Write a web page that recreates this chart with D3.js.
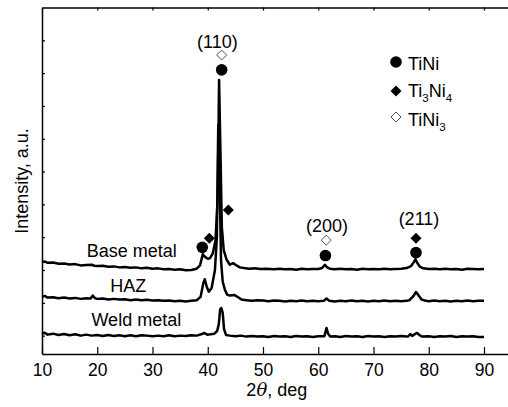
<!DOCTYPE html>
<html>
<head>
<meta charset="utf-8">
<script src="https://cdn.jsdelivr.net/npm/d3@7"></script>
<style>
  html, body { margin: 0; padding: 0; background: #fff; }
  svg { display: block; font-family: "Liberation Sans", Arial, sans-serif; }
</style>
</head>
<body>
<svg id="chart" width="508" height="407"></svg>
<script>
// ── data (2θ in deg, intensity in a.u.) ─────────────────────────
const xTicks = [10, 20, 30, 40, 50, 60, 70, 80, 90];
const yTicks = [0, 100, 200, 300, 400, 500, 600, 700, 800, 900];

const baseMetal = [
  [10,224],[10.5,226],[11,222],[12,223],[13,219],[14,220],[15,217],[16,218],[17,214],[18,215],
  [19,216],[19.5,213],[20,212],[21,213],[22,210],[23,211],[24,208],[25,209],[26,207],[27,208],
  [28,205],[29,207],[30,204],[31,205],[32,202],[33,203],[34,201],[35,202],[36,199],[37,200],
  [38,204],[38.6,214],[39.1,248],[39.5,240],[40,234],[40.4,236],[40.9,250],[41.4,290],[41.8,420],
  [42.05,779],[42.3,560],[42.55,330],[42.9,260],[43.4,232],[44,216],[44.6,221],[45.2,214],[45.8,208],
  [46.5,206],[47.5,204],[48.5,205],[49.5,203],[50.5,204],[52,202],[53,204],[54,202],[55,203],
  [56,201],[57,204],[58,202],[59,203],[60,203],[60.7,206],[61.2,216],[61.6,208],[62.1,204],
  [63,202],[64,204],[65,202],[66,203],[67,201],[68,204],[69,202],[70,203],[71,202],[72,204],
  [73,202],[74,203],[75,204],[76,206],[76.8,212],[77.3,224],[77.6,233],[77.9,222],[78.4,210],
  [79,205],[80,203],[81,204],[82,202],[83,204],[84,202],[85,203],[86,201],[87,204],[88,203],
  [89,202],[90,203]
];

const haz = [
  [10,118],[10.5,121],[11,116],[12,117],[13,114],[14,116],[15,113],[16,115],[17,112],[18,114],
  [18.8,113],[19.2,122],[19.6,114],[20,112],[21,113],[22,110],[23,112],[24,110],[25,111],[26,108],
  [27,110],[28,108],[29,109],[30,107],[31,108],[32,106],[33,107],[34,105],[35,106],[36,104],
  [37,106],[38,108],[38.7,118],[39.2,160],[39.45,172],[39.8,150],[40.2,134],[40.7,145],[41.3,200],
  [41.65,300],[41.9,642],[42.15,480],[42.4,230],[42.7,165],[43.1,140],[43.5,125],[44,122],
  [44.8,124],[45.3,119],[46.1,110],[47,108],[48,106],[49,108],[50,107],[51,105],[52,107],[53,106],
  [54,104],[55,106],[56,105],[57,107],[58,105],[59,106],[60,105],[61,106],[61.5,113],[62,106],
  [63,104],[64,106],[65,105],[66,107],[67,105],[68,106],[69,104],[70,106],[71,105],[72,107],
  [73,105],[74,106],[75,105],[76,106],[76.5,108],[77.2,120],[77.7,133],[78.1,124],[78.7,110],
  [79.5,106],[80,105],[81,107],[82,105],[83,106],[84,104],[85,106],[86,105],[87,107],[88,105],
  [89,106],[90,106]
];

const weldMetal = [
  [10,5],[10.5,9],[11,3],[12,6],[13,2],[14,5],[15,1],[16,4],[17,0],[18,3],
  [19,0],[20,2],[21,-1],[22,2],[23,-1],[24,1],[25,-2],[26,1],[27,-2],[28,1],
  [29,0],[30,-2],[31,0],[32,-2],[33,1],[34,-2],[35,0],[36,-1],[37,1],[38,0],
  [38.8,4],[39.4,8],[39.9,3],[40.5,4],[41.2,6],[41.7,14],[42,35],[42.25,80],[42.45,84],
  [42.7,70],[42.95,20],[43.3,2],[44,0],[45,-2],[46,0],[47,-3],[48,-1],[49,-3],[50,-2],
  [51,-4],[52,-1],[53,-3],[54,-2],[55,-4],[56,-1],[57,-3],[58,-2],[59,-4],[60,-2],
  [61.1,-2],[61.5,23],[61.8,5],[62.2,-3],[63,-2],[64,-4],[65,-1],[66,-3],[67,-2],[68,-4],
  [69,-1],[70,-3],[71,-2],[72,-4],[73,-2],[74,-3],[75,-1],[76,-3],[76.3,-2],[76.7,5],
  [77,-1],[77.6,6],[77.9,8],[78.3,2],[78.8,-3],[80,-2],[81,-4],[82,-2],[83,-3],[84,-1],
  [85,-4],[86,-2],[87,-3],[88,-2],[89,-4],[90,-4]
];

// phase markers [2θ, intensity]
const tiniMarks   = [[42.52,810],[39.01,269],[61.3,244],[77.69,253]];
const ti3ni4Marks = [[40.28,297],[43.72,383],[77.69,297]];
const tini3Marks  = [[42.52,855],[61.45,291]];

// annotations [text, 2θ, intensity]
const planeLabels = [["(110)",41.75,877],["(200)",61.58,317],["(211)",78.23,337]];
const curveLabels = [["Base metal",26.23,239],["HAZ",25.62,133],["Weld metal",27.07,29]];

// ── layout ─────────────────────────────────────────────────────
const svg = d3.select("#chart");
const M = { left: 42, top: 7.5, bottom: 354 };
const FONT = 18;

const x = d3.scaleLinear().domain([10, 95]).range([M.left, M.left + 85 * 5.525]);
const y = d3.scaleLinear().domain([-56, 1000]).range([M.bottom, M.top]);

svg.append("rect").attr("width", 508).attr("height", 407).attr("fill", "#fff");

// ── axes ───────────────────────────────────────────────────────
const axB = svg.append("g")
  .attr("transform", `translate(0,${M.bottom})`)
  .call(d3.axisBottom(x).tickValues(xTicks).tickSizeInner(-7).tickSizeOuter(0).tickPadding(10));
const axT = svg.append("g")
  .attr("transform", `translate(0,${M.top})`)
  .call(d3.axisTop(x).tickValues(xTicks).tickSizeInner(-3).tickSizeOuter(0).tickFormat(""));
const axL = svg.append("g")
  .attr("transform", `translate(${M.left},0)`)
  .call(d3.axisLeft(y).tickValues(yTicks).tickSizeInner(-3).tickSizeOuter(0).tickFormat(""));

[axB, axT, axL].forEach(g => {
  g.select(".domain").attr("stroke", "#000").attr("stroke-width", 1.5);
  g.selectAll(".tick line").attr("stroke", "#000").attr("stroke-width", 1.2);
});
axB.selectAll(".tick text")
  .attr("font-size", 17.5).attr("fill", "#000")
  .attr("font-family", "Liberation Sans, Arial, sans-serif");

// ── curves ─────────────────────────────────────────────────────
const line = d3.line().x(d => x(d[0])).y(d => y(d[1]));
[baseMetal, haz, weldMetal].forEach(s => {
  svg.append("path")
    .datum(s)
    .attr("d", line)
    .attr("fill", "none")
    .attr("stroke", "#000")
    .attr("stroke-width", 2.5)
    .attr("stroke-linejoin", "round");
});

// ── markers ────────────────────────────────────────────────────
const diamond = s => `M0,${-s}L${s},0L0,${s}L${-s},0Z`;

svg.selectAll(".m-tini").data(tiniMarks).join("circle")
  .attr("cx", d => x(d[0])).attr("cy", d => y(d[1])).attr("r", 5.8).attr("fill", "#000");
svg.selectAll(".m-ti3ni4").data(ti3ni4Marks).join("path")
  .attr("transform", d => `translate(${x(d[0])},${y(d[1])})`)
  .attr("d", diamond(5.5)).attr("fill", "#000");
svg.selectAll(".m-tini3").data(tini3Marks).join("path")
  .attr("transform", d => `translate(${x(d[0])},${y(d[1])})`)
  .attr("d", diamond(5)).attr("fill", "#fff").attr("stroke", "#555").attr("stroke-width", 1);

// ── annotations ────────────────────────────────────────────────
svg.selectAll(".plane").data(planeLabels).join("text")
  .attr("x", d => x(d[1])).attr("y", d => y(d[2]))
  .attr("text-anchor", "middle").attr("font-size", FONT).attr("fill", "#000")
  .text(d => d[0]);
svg.selectAll(".curve").data(curveLabels).join("text")
  .attr("x", d => x(d[1])).attr("y", d => y(d[2]))
  .attr("text-anchor", "middle").attr("font-size", FONT).attr("fill", "#000")
  .text(d => d[0]);

// ── legend ─────────────────────────────────────────────────────
const leg = svg.append("g").attr("transform", "translate(396,0)");
leg.append("circle").attr("cx", 0).attr("cy", 62).attr("r", 5.8).attr("fill", "#000");
leg.append("path").attr("transform", "translate(0,91)").attr("d", diamond(5.5)).attr("fill", "#000");
leg.append("path").attr("transform", "translate(0,117)").attr("d", diamond(5))
  .attr("fill", "#fff").attr("stroke", "#555").attr("stroke-width", 1);

// parts: [text, isSubscript]
function legendText(yy, parts) {
  const t = leg.append("text").attr("x", 12).attr("y", yy).attr("font-size", FONT).attr("fill", "#000");
  let down = false;
  parts.forEach(([s, sub]) => {
    const dy = sub ? (down ? 0 : 5) : (down ? -5 : 0);
    const ts = t.append("tspan").attr("dy", dy).text(s);
    if (sub) ts.attr("font-size", 11.5);
    down = !!sub;
  });
}
legendText(70, [["TiNi"]]);
legendText(97, [["Ti"], ["3", true], ["Ni"], ["4", true]]);
legendText(126, [["TiNi"], ["3", true]]);

// ── axis titles ────────────────────────────────────────────────
const xt = svg.append("text").attr("x", x(52.5)).attr("y", 395.5)
  .attr("text-anchor", "middle").attr("font-size", FONT).attr("fill", "#000");
xt.append("tspan").text("2");
xt.append("tspan").attr("font-style", "italic").attr("font-family", "DejaVu Serif, serif").text("θ");
xt.append("tspan").text(", deg");

svg.append("text")
  .attr("transform", "translate(28,181) rotate(-90)")
  .attr("text-anchor", "middle").attr("font-size", FONT).attr("fill", "#000")
  .text("Intensity, a.u.");
</script>
</body>
</html>
